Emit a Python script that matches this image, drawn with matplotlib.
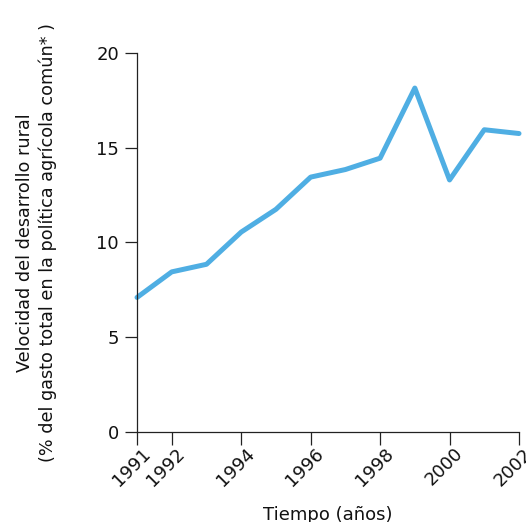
import matplotlib
matplotlib.use('Agg')
import matplotlib.pyplot as plt
import matplotlib.transforms as mtransforms

years = [1991, 1992, 1993, 1994, 1995, 1996, 1997, 1998, 1999, 2000, 2001, 2002]
values = [7.1, 8.45, 8.85, 10.55, 11.75, 13.45, 13.85, 14.45, 18.15, 13.3, 15.95, 15.75]
xticks = [1991, 1992, 1994, 1996, 1998, 2000, 2002]
yticks = [0, 5, 10, 15, 20]

plt.rcParams['font.family'] = ['DejaVu Sans']

fig = plt.figure(figsize=(5.26, 5.22), dpi=100)
ax = fig.add_axes([0.2605, 0.1724, 0.7262, 0.7261])

ax.plot(years, values, color='#4FAEE3', linewidth=3.6, solid_capstyle='round',
        solid_joinstyle='round', clip_on=False)

ax.set_xlim(1991, 2002)
ax.set_ylim(0, 20)
ax.set_xticks(xticks)
ax.set_yticks(yticks)
ax.set_xticklabels([str(x) for x in xticks], rotation=45, ha='right',
                   rotation_mode='anchor')

for s in ['top', 'right']:
    ax.spines[s].set_visible(False)
for s in ['left', 'bottom']:
    ax.spines[s].set_color('#222222')
    ax.spines[s].set_linewidth(0.9)

ax.tick_params(axis='both', direction='out', length=9, width=0.9,
               color='#222222', labelsize=13, labelcolor='#111111', pad=4)
ax.tick_params(axis='x', pad=0)

# nudge rotated year labels a little to the right
shift = mtransforms.ScaledTranslation(3 / 72, 0, fig.dpi_scale_trans)
for lbl in ax.get_xticklabels():
    lbl.set_transform(lbl.get_transform() + shift)

ax.set_xlabel('Tiempo (años)', fontsize=13, color='#111111', labelpad=12)
ax.set_ylabel('Velocidad del desarrollo rural\n'
              '(% del gasto total en la política agrícola común* )',
              fontsize=12.7, color='#111111', labelpad=28, linespacing=1.3)

fig.savefig('out.png', dpi=100)
